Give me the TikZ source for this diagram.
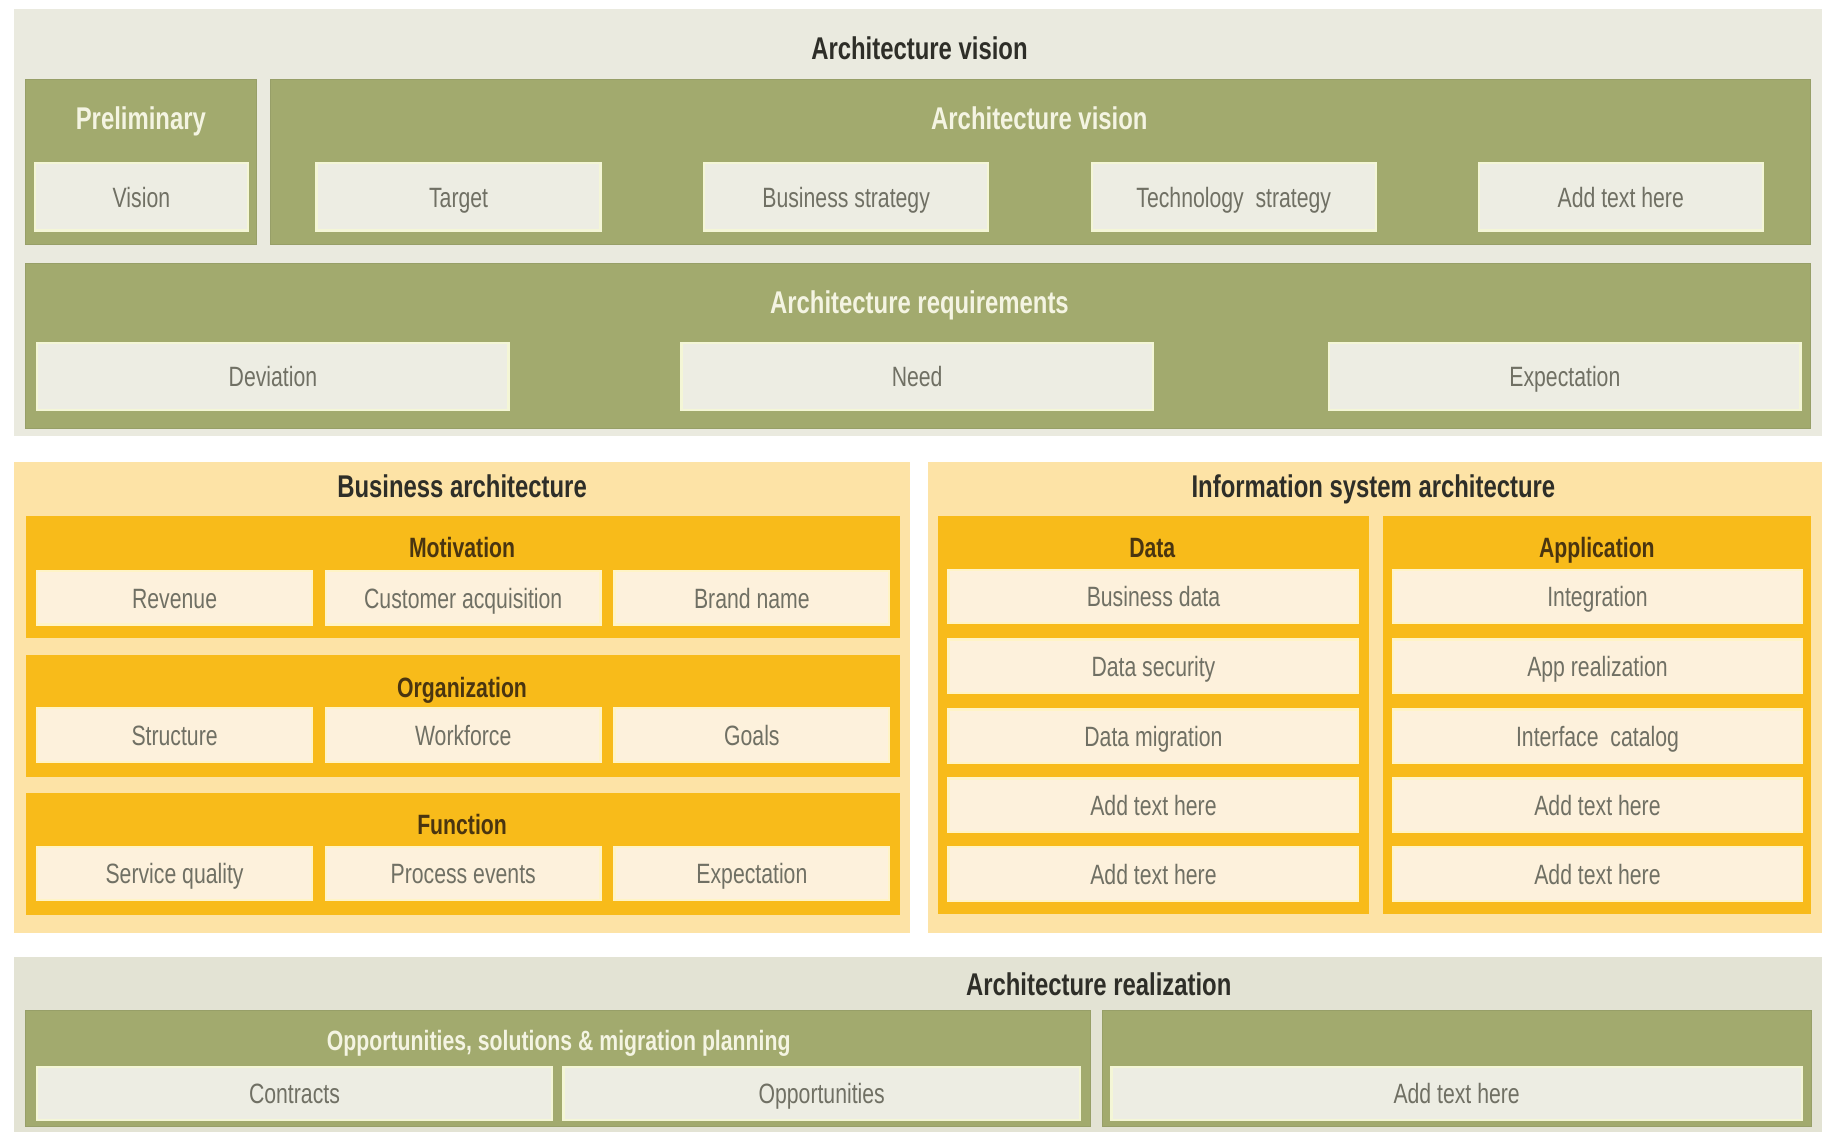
\documentclass[tikz,border=0pt]{standalone}
\usepackage{fontspec}
\setmainfont[FakeStretch=0.76]{Liberation Sans}
\usepackage{tikz}

\definecolor{panelgray}{HTML}{EAEADF}
\definecolor{realgray}{HTML}{E3E3D4}
\definecolor{olive}{HTML}{A2AA6E}
\definecolor{oliveline}{HTML}{979F68}
\definecolor{itemgray}{HTML}{EDEDE3}
\definecolor{itemline}{HTML}{F4F6D6}
\definecolor{paleorange}{HTML}{FDE3A6}
\definecolor{gold}{HTML}{F8BB1A}
\definecolor{itemcream}{HTML}{FDF1DC}
\definecolor{creamline}{HTML}{FFF4C6}
\definecolor{textgray}{HTML}{707064}
\definecolor{titledark}{HTML}{2E2E28}
\definecolor{titlecream}{HTML}{F4F4E2}
\definecolor{titlebrown}{HTML}{4A3510}

\begin{document}
\begin{tikzpicture}[x=1pt,y=-1pt,
    greybox/.style={rectangle,fill=itemgray,draw=itemline,line width=2pt,inner sep=0pt,
        minimum height=58pt,text=textgray,font=\fontsize{24}{26}\selectfont,
        text height=20pt,text depth=2pt},
    creambox/.style={rectangle,fill=itemcream,draw=creamline,line width=2pt,inner sep=0pt,
        minimum height=46pt,text=textgray,font=\fontsize{24}{26}\selectfont,
        text height=20pt,text depth=2pt},
    main_title/.style={text=titledark,font=\bfseries\fontsize{27}{29}\selectfont,
        text height=22pt,text depth=3pt},
    green_title/.style={text=titlecream,font=\bfseries\fontsize{27}{29}\selectfont,
        text height=22pt,text depth=3pt},
    band_title/.style={text=titlebrown,font=\bfseries\fontsize{24}{26}\selectfont,
        text height=20pt,text depth=2pt}]
    \useasboundingbox[fill=white] (0,0) rectangle (1568,973);

    % architecture vision
    \fill[panelgray] (12,8) rectangle (1565,375);
    \node[main_title] (vision_t) at (790,42) {Architecture vision};
    \filldraw[fill=olive,draw=oliveline] (22,68) rectangle (220,210);
    \filldraw[fill=olive,draw=oliveline] (232,68) rectangle (1555,210);
    \node[green_title] (prelim_t) at (121,102) {Preliminary};
    \node[green_title] (archvis_t) at (893,102) {Architecture vision};
    \node[greybox,minimum width=183pt] (vision) at (121.5,169) {Vision};
    \node[greybox,minimum width=244pt] (target) at (394,169) {Target};
    \node[greybox,minimum width=244pt] (busstrat) at (727,169) {Business strategy};
    \node[greybox,minimum width=244pt] (techstrat) at (1060,169) {Technology\ \ strategy};
    \node[greybox,minimum width=244pt] (visadd) at (1392.5,169) {Add text here};

    \filldraw[fill=olive,draw=oliveline] (22,226) rectangle (1555,368);
    \node[green_title] (req_t) at (790,260) {Architecture requirements};
    \node[greybox,minimum width=405pt] (deviation) at (234.5,323.5) {Deviation};
    \node[greybox,minimum width=405pt] (need) at (788,323.5) {Need};
    \node[greybox,minimum width=405pt] (expect) at (1344.5,323.5) {Expectation};

    % business architecture
    \fill[paleorange] (12,397) rectangle (782,802);
    \node[main_title] (business_t) at (397,418) {Business architecture};
    \foreach \y/\name/\title in {443/motiv/Motivation,563/organ/Organization,681/funct/Function} {
        \fill[gold] (22,\y) rectangle (773,\y+105);
        \node[band_title] (\name_t) at (397,\y+27) {\title};
    }
    \node[creambox,minimum width=236pt] (revenue) at (150,513.5) {Revenue};
    \node[creambox,minimum width=236pt] (custacq) at (398,513.5) {Customer acquisition};
    \node[creambox,minimum width=236pt] (brand) at (646,513.5) {Brand name};
    \node[creambox,minimum width=236pt] (structure) at (150,631.5) {Structure};
    \node[creambox,minimum width=236pt] (workforce) at (398,631.5) {Workforce};
    \node[creambox,minimum width=236pt] (goals) at (646,631.5) {Goals};
    \node[creambox,minimum width=236pt] (servq) at (150,750.5) {Service quality};
    \node[creambox,minimum width=236pt] (procev) at (398,750.5) {Process events};
    \node[creambox,minimum width=236pt] (expect2) at (646,750.5) {Expectation};

    % information system architecture
    \fill[paleorange] (797,397) rectangle (1565,802);
    \node[main_title] (infosys_t) at (1180,418) {Information system architecture};
    \fill[gold] (806,443) rectangle (1176,785);
    \fill[gold] (1188,443) rectangle (1556,785);
    \node[band_title] (data_t) at (990,470) {Data};
    \node[band_title] (app_t) at (1372,470) {Application};
    \node[creambox,minimum width=352pt] (busdata) at (991,512.5) {Business data};
    \node[creambox,minimum width=352pt] (datasec) at (991,572.5) {Data security};
    \node[creambox,minimum width=352pt] (datamig) at (991,632.5) {Data migration};
    \node[creambox,minimum width=352pt] (dataadd1) at (991,692) {Add text here};
    \node[creambox,minimum width=352pt] (dataadd2) at (991,751) {Add text here};
    \node[creambox,minimum width=351pt] (integr) at (1372.5,512.5) {Integration};
    \node[creambox,minimum width=351pt] (appreal) at (1372.5,572.5) {App realization};
    \node[creambox,minimum width=351pt] (intcat) at (1372.5,632.5) {Interface\ \ catalog};
    \node[creambox,minimum width=351pt] (appadd1) at (1372.5,692) {Add text here};
    \node[creambox,minimum width=351pt] (appadd2) at (1372.5,751) {Add text here};

    % architecture realization
    \fill[realgray] (12,822) rectangle (1565,973);
    \node[main_title] (real_t) at (944,846) {Architecture realization};
    \filldraw[fill=olive,draw=oliveline] (22,868) rectangle (937,968);
    \filldraw[fill=olive,draw=oliveline] (947,868) rectangle (1556,968);
    \node[green_title,font=\bfseries\fontsize{24}{26}\selectfont] (oppplan_t) at (480,893)
        {Opportunities, solutions \& migration planning};
    \node[greybox,minimum width=442pt,minimum height=45pt] (contracts) at (253,939.5) {Contracts};
    \node[greybox,minimum width=444pt,minimum height=45pt] (opps) at (706,939.5) {Opportunities};
    \node[greybox,minimum width=593pt,minimum height=45pt] (realadd) at (1251.5,939.5) {Add text here};
\end{tikzpicture}
\end{document}
